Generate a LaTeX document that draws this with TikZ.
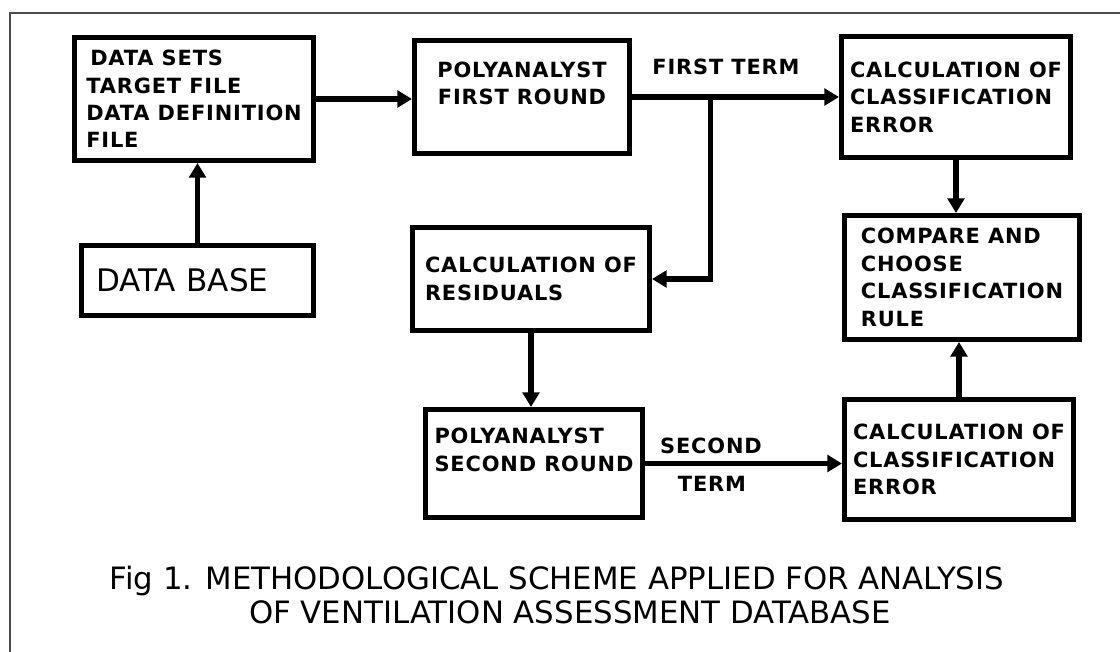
\documentclass[tikz,border=0pt]{standalone}
\usepackage{fontspec}
\setmainfont{DejaVu Sans}
\newfontfamily\boxfont{DejaVu Sans}[LetterSpace=4]
\usetikzlibrary{arrows.meta}

\begin{document}
\begin{tikzpicture}[x=0.75pt, y=-0.75pt,
  box/.style={draw, line width=3.75pt, inner sep=0pt, align=left,
    font=\boxfont\bfseries\fontsize{15.7}{20.6}\selectfont},
  termlabel/.style={font=\boxfont\bfseries\fontsize{15.7}{20.6}\selectfont},
  flow/.style={line width=4pt, -{Triangle[length=11pt,width=12.5pt]}},
  captiontext/.style={font=\fontsize{23.1}{24}\selectfont}]
\useasboundingbox (0,0) rectangle (1120,652);
\draw[black!70, line width=1.1pt] (10,652) -- (10,13) -- (1120,13);

\node[box, minimum width=179.3pt, minimum height=92.3pt] (datasets) at (194,99)
  {\hspace*{3pt}DATA SETS\\TARGET FILE\\DATA DEFINITION\\FILE};
\node[box, align=center, minimum width=161.3pt, minimum height=84.8pt] (firstround) at (522,97)
  {POLYANALYST\\FIRST ROUND\\ };
\node[box, minimum width=171.8pt, minimum height=90.8pt] (calcerrtop) at (956,97)
  {CALCULATION OF\\CLASSIFICATION\\ERROR};
\node[box, minimum width=176.3pt, minimum height=93pt] (compare) at (962,277.5)
  {COMPARE AND\\CHOOSE\\CLASSIFICATION\\RULE};
\node[box, font=\fontsize{23.3}{24}\selectfont, text width=152pt, inner xsep=11pt,
  minimum height=52.5pt] (database) at (197.5,280.5) {DATA BASE};
\node[box, minimum width=177.8pt, minimum height=77.3pt] (residuals) at (531,279)
  {CALCULATION OF\\RESIDUALS};
\node[box, minimum width=162.8pt, minimum height=81pt] (secondround) at (534,463.5)
  {POLYANALYST\\SECOND ROUND\\ };
\node[box, minimum width=171.8pt, minimum height=90pt] (calcerrbottom) at (959,459.5)
  {CALCULATION OF\\CLASSIFICATION\\ERROR};

\draw[flow] (database.north) -- (database.north |- datasets.south);
\draw[flow] (datasets.east) -- (datasets.east -| firstround.west);
\draw[flow] (firstround.east) -- coordinate[pos=0.38] (fork) (firstround.east -| calcerrtop.west);
\draw[flow] (fork) |- (residuals.east);
\draw[flow] (calcerrtop.south) -- (calcerrtop.south |- compare.north);
\draw[flow] (residuals.south) -- (residuals.south |- secondround.north);
\draw[flow] (secondround.east) -- (secondround.east -| calcerrbottom.west);
\draw[flow] (calcerrbottom.north) -- (calcerrbottom.north |- compare.south);

\node[termlabel] (firstterm) at (726,67) {FIRST TERM};
\node[termlabel] (secondword) at (711,446) {SECOND};
\node[termlabel] (termword) at (712,484) {TERM};

\node[captiontext] (caption1) at (557,581) {Fig 1. METHODOLOGICAL SCHEME APPLIED FOR ANALYSIS};
\node[captiontext] (caption2) at (570,612) {OF VENTILATION ASSESSMENT DATABASE};
\end{tikzpicture}
\end{document}
